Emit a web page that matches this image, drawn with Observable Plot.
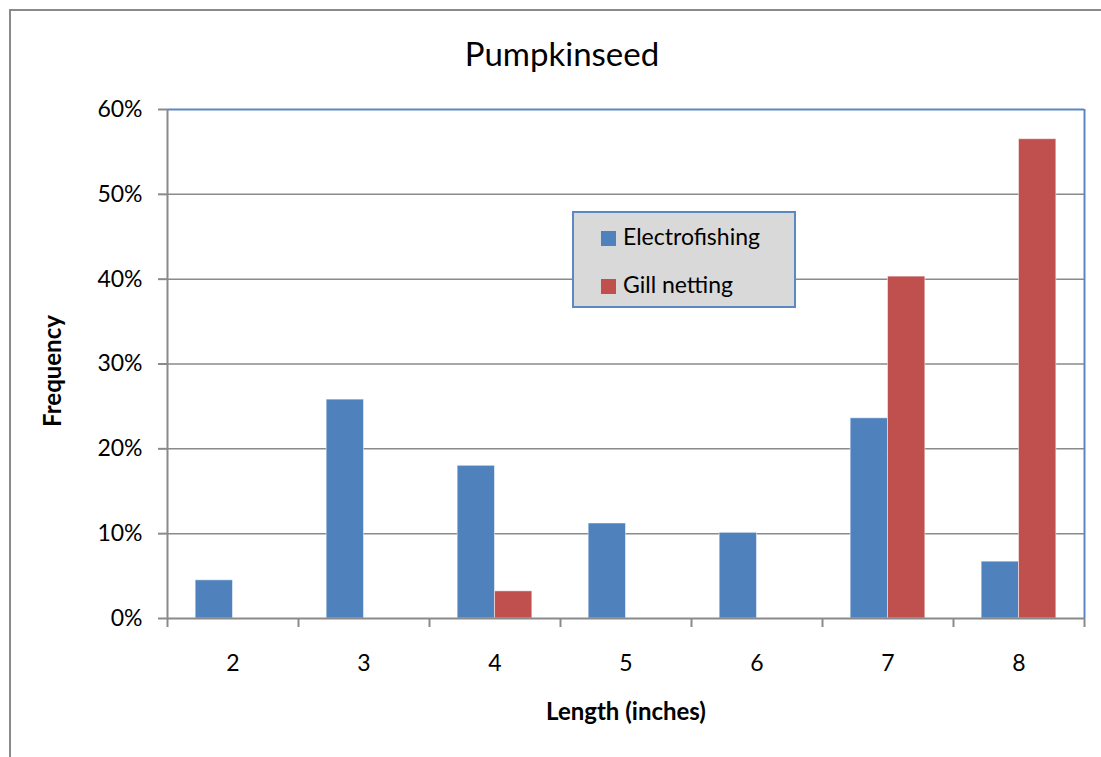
<!DOCTYPE html>
<html><head><meta charset="utf-8">
<script src="https://cdn.jsdelivr.net/npm/d3@7"></script>
<script src="https://cdn.jsdelivr.net/npm/@observablehq/plot@0.6"></script>
<style>
body{margin:0;background:#fff;}
#wrap{position:relative;width:1101px;height:757px;overflow:hidden;font-family:Lato,sans-serif;color:#000;}
#border{position:absolute;left:9px;top:9px;width:1300px;height:900px;border-left:2px solid #8a8a8a;border-top:2px solid #8a8a8a;}
#chart{position:absolute;left:0;top:0;}
#title{position:absolute;left:312px;width:500px;top:37px;text-align:center;font-size:33px;line-height:33px;}
#legend{position:absolute;left:572px;top:211px;width:220px;height:93px;background:#d9d9d9;border:2px solid #5b87c3;}
.item{position:absolute;left:27px;font-size:23px;line-height:23px;white-space:nowrap;}
.sw{display:inline-block;width:15px;height:15px;margin-right:7px;vertical-align:-1px;}
</style>
</head><body>
<div id="wrap">
  <div id="border"></div>
  <div id="chart"></div>
  <div id="title">Pumpkinseed</div>
  <div id="legend"></div>
</div>
<script>
const lengths = [2, 3, 4, 5, 6, 7, 8];
const series = ["Electrofishing", "Gill netting"];
const electrofishing = [0.045, 0.258, 0.180, 0.112, 0.101, 0.236, 0.067];
const gillNetting = [0, 0, 0.032, 0, 0, 0.403, 0.565];
const yTicks = [0, 0.1, 0.2, 0.3, 0.4, 0.5, 0.6];
const colors = ["#4f81bd", "#c0504d"];

const barWidth = 0.285; // fraction of one length category
const data = lengths.flatMap((len, i) => [
  {length: len, series: series[0], value: electrofishing[i], side: -1},
  {length: len, series: series[1], value: gillNetting[i], side: 0}
]).filter(d => d.value > 0);
const xDomain = [lengths[0] - 0.5, lengths[lengths.length - 1] + 0.5];
const boundaries = [xDomain[0], ...lengths.map(d => d + 0.5)];
const gray = "#8a8a8a";
const blue = "#5b87c3";

const plot = Plot.plot({
  width: 1101,
  height: 757,
  marginLeft: 167,
  marginRight: 17,
  marginTop: 109,
  marginBottom: 139,
  style: {background: "transparent", fontFamily: "Lato, sans-serif", color: "#000"},
  x: {type: "linear", domain: xDomain, axis: null},
  y: {domain: [yTicks[0], yTicks[yTicks.length - 1]], axis: null},
  color: {domain: series, range: colors},
  marks: [
    Plot.ruleY(yTicks.slice(1, -1), {stroke: gray, strokeWidth: 1.5}),
    Plot.rectY(data, {
      x1: d => d.length + d.side * barWidth,
      x2: d => d.length + (d.side + 1) * barWidth,
      y1: 0, y2: "value", fill: "series",
      stroke: "white", strokeOpacity: 0.5, strokeWidth: 1
    }),
    Plot.ruleY([yTicks[yTicks.length - 1]], {stroke: blue, strokeWidth: 2}),
    Plot.ruleX([xDomain[1]], {stroke: blue, strokeWidth: 2}),
    Plot.ruleX([xDomain[0]], {stroke: gray, strokeWidth: 2}),
    Plot.ruleY([0], {stroke: gray, strokeWidth: 2}),
    Plot.axisY({ticks: yTicks, tickFormat: d3.format(".0%"), tickSize: 9, tickPadding: 16,
      fontSize: 23, stroke: gray, strokeWidth: 2, label: null}),
    Plot.axisX({ticks: boundaries, tickFormat: () => "", tickSize: 9, stroke: gray, strokeWidth: 2, label: null}),
    Plot.axisX({ticks: lengths, tickFormat: d => String(d), tickSize: 0, tickPadding: 36, fontSize: 23, label: null}),
    Plot.text(["Length (inches)"], {text: d => d, frameAnchor: "bottom", dy: 94, lineAnchor: "middle",
      textAnchor: "middle", fontSize: 24, fontWeight: "bold"}),
    Plot.text(["Frequency"], {text: d => d, frameAnchor: "left", rotate: -90, dx: -114, dy: 7, lineAnchor: "middle",
      textAnchor: "middle", fontSize: 24, fontWeight: "bold"})
  ]
});
document.getElementById("chart").append(plot);

const legend = document.getElementById("legend");
series.forEach((s, i) => {
  const item = document.createElement("div");
  item.className = "item";
  item.style.top = (12 + i * 48) + "px";
  item.innerHTML = `<span class="sw" style="background:${colors[i]}"></span>${s}`;
  legend.append(item);
});
</script>
</body></html>
